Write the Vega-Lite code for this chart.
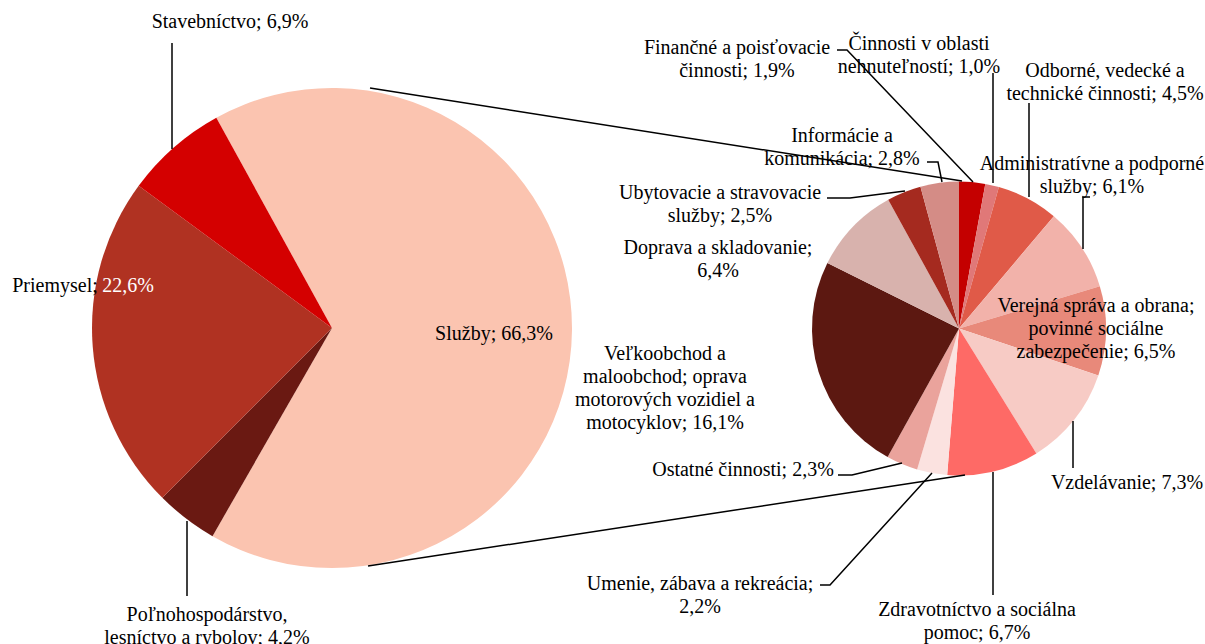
{
  "$schema": "https://vega.github.io/schema/vega-lite/v6.json",
  "width": 1205,
  "height": 644,
  "padding": 0,
  "autosize": "none",
  "background": "white",
  "config": {"view": {"stroke": null}},
  "datasets": {
    "odvetvia": [
      {"odvetvie": "Služby", "podiel": 66.3},
      {"odvetvie": "Poľnohospodárstvo, lesníctvo a rybolov", "podiel": 4.2},
      {"odvetvie": "Priemysel", "podiel": 22.6},
      {"odvetvie": "Stavebníctvo", "podiel": 6.9}
    ],
    "sluzby": [
      {"odvetvie": "Finančné a poisťovacie činnosti", "podiel": 1.9},
      {"odvetvie": "Činnosti v oblasti nehnuteľností", "podiel": 1.0},
      {"odvetvie": "Odborné, vedecké a technické činnosti", "podiel": 4.5},
      {"odvetvie": "Administratívne a podporné služby", "podiel": 6.1},
      {"odvetvie": "Verejná správa a obrana; povinné sociálne zabezpečenie", "podiel": 6.5},
      {"odvetvie": "Vzdelávanie", "podiel": 7.3},
      {"odvetvie": "Zdravotníctvo a sociálna pomoc", "podiel": 6.7},
      {"odvetvie": "Umenie, zábava a rekreácia", "podiel": 2.2},
      {"odvetvie": "Ostatné činnosti", "podiel": 2.3},
      {"odvetvie": "Veľkoobchod a maloobchod; oprava motorových vozidiel a motocyklov", "podiel": 16.1},
      {"odvetvie": "Doprava a skladovanie", "podiel": 6.4},
      {"odvetvie": "Ubytovacie a stravovacie služby", "podiel": 2.5},
      {"odvetvie": "Informácie a komunikácia", "podiel": 2.8}
    ],
    "popisy": [
      {"popis": ["Stavebníctvo; 6,9%"], "px": 230, "py": 28},
      {"popis": ["Priemysel;"], "px": 55, "py": 292},
      {"popis": ["Služby; 66,3%"], "px": 494, "py": 340},
      {"popis": ["Poľnohospodárstvo,", "lesníctvo a rybolov; 4,2%"], "px": 207, "py": 621},
      {"popis": ["Finančné a poisťovacie", "činnosti; 1,9%"], "px": 737, "py": 54},
      {"popis": ["Činnosti v oblasti", "nehnuteľností; 1,0%"], "px": 919, "py": 50},
      {"popis": ["Odborné, vedecké a", "technické činnosti; 4,5%"], "px": 1105, "py": 77},
      {"popis": ["Administratívne a podporné", "služby; 6,1%"], "px": 1092, "py": 170},
      {"popis": ["Verejná správa a obrana;", "povinné sociálne", "zabezpečenie; 6,5%"], "px": 1096, "py": 312},
      {"popis": ["Vzdelávanie; 7,3%"], "px": 1127, "py": 489},
      {"popis": ["Zdravotníctvo a sociálna", "pomoc; 6,7%"], "px": 977, "py": 616},
      {"popis": ["Umenie, zábava a rekreácia;", "2,2%"], "px": 700, "py": 590},
      {"popis": ["Ostatné činnosti; 2,3%"], "px": 743, "py": 476},
      {"popis": ["Veľkoobchod a", "maloobchod; oprava", "motorových vozidiel a", "motocyklov; 16,1%"], "px": 665, "py": 360},
      {"popis": ["Doprava a skladovanie;", "6,4%"], "px": 718, "py": 254},
      {"popis": ["Ubytovacie a stravovacie", "služby; 2,5%"], "px": 720, "py": 199},
      {"popis": ["Informácie a", "komunikácia; 2,8%"], "px": 842, "py": 142}
    ],
    "vodiace": [
      {"id": "stav", "k": 1, "px": 172, "py": 43}, {"id": "stav", "k": 2, "px": 172, "py": 149},
      {"id": "poln", "k": 1, "px": 187, "py": 521}, {"id": "poln", "k": 2, "px": 187, "py": 596},
      {"id": "fin", "k": 1, "px": 837, "py": 50}, {"id": "fin", "k": 2, "px": 847, "py": 50}, {"id": "fin", "k": 3, "px": 973, "py": 182},
      {"id": "neh", "k": 1, "px": 993, "py": 73}, {"id": "neh", "k": 2, "px": 993, "py": 183},
      {"id": "odb", "k": 1, "px": 1029, "py": 103}, {"id": "odb", "k": 2, "px": 1029, "py": 197},
      {"id": "adm", "k": 1, "px": 1090, "py": 197}, {"id": "adm", "k": 2, "px": 1083, "py": 197}, {"id": "adm", "k": 3, "px": 1083, "py": 249},
      {"id": "vzd", "k": 1, "px": 1073, "py": 421}, {"id": "vzd", "k": 2, "px": 1073, "py": 468},
      {"id": "zdr", "k": 1, "px": 993, "py": 472}, {"id": "zdr", "k": 2, "px": 993, "py": 595},
      {"id": "ume", "k": 1, "px": 820, "py": 585}, {"id": "ume", "k": 2, "px": 830, "py": 585}, {"id": "ume", "k": 3, "px": 932, "py": 473},
      {"id": "ost", "k": 1, "px": 838, "py": 475}, {"id": "ost", "k": 2, "px": 852, "py": 475}, {"id": "ost", "k": 3, "px": 902, "py": 463},
      {"id": "uby", "k": 1, "px": 827, "py": 198}, {"id": "uby", "k": 2, "px": 850, "py": 198}, {"id": "uby", "k": 3, "px": 905, "py": 191},
      {"id": "inf", "k": 1, "px": 927, "py": 162}, {"id": "inf", "k": 2, "px": 938, "py": 162}, {"id": "inf", "k": 3, "px": 942, "py": 182}
    ],
    "spojnice": [
      {"px": 370, "py": 88, "px2": 962, "py2": 181},
      {"px": 368, "py": 566, "px2": 965, "py2": 475}
    ]
  },
  "layer": [
    {
      "data": {"name": "odvetvia"},
      "transform": [{"window": [{"op": "row_number", "as": "n"}]}],
      "mark": {"type": "arc", "outerRadius": 240, "strokeWidth": 0},
      "encoding": {
        "x": {"datum": 332, "type": "quantitative", "scale": {"domain": [0, 1205], "nice": false, "zero": false}, "axis": null},
        "y": {"datum": 328, "type": "quantitative", "scale": {"domain": [0, 644], "nice": false, "zero": false, "reverse": true}, "axis": null},
        "theta": {"field": "podiel", "type": "quantitative", "stack": true, "scale": {"range": [-0.503, 5.7802]}},
        "order": {"field": "n", "type": "quantitative"},
        "color": {
          "field": "odvetvie", "type": "nominal", "legend": null,
          "scale": {
            "domain": ["Služby", "Poľnohospodárstvo, lesníctvo a rybolov", "Priemysel", "Stavebníctvo"],
            "range": ["#FBC4B0", "#6A1912", "#B03222", "#D40000"]
          }
        }
      }
    },
    {
      "data": {"name": "sluzby"},
      "transform": [{"window": [{"op": "row_number", "as": "n"}]}],
      "mark": {"type": "arc", "outerRadius": 147, "strokeWidth": 0},
      "encoding": {
        "x": {"datum": 959, "type": "quantitative"},
        "y": {"datum": 328.5, "type": "quantitative"},
        "theta": {"field": "podiel", "type": "quantitative", "stack": true, "scale": {"range": [0, 6.2832]}},
        "order": {"field": "n", "type": "quantitative"},
        "color": {
          "field": "odvetvie", "type": "nominal", "legend": null,
          "scale": {
            "domain": [
              "Finančné a poisťovacie činnosti",
              "Činnosti v oblasti nehnuteľností",
              "Odborné, vedecké a technické činnosti",
              "Administratívne a podporné služby",
              "Verejná správa a obrana; povinné sociálne zabezpečenie",
              "Vzdelávanie",
              "Zdravotníctvo a sociálna pomoc",
              "Umenie, zábava a rekreácia",
              "Ostatné činnosti",
              "Veľkoobchod a maloobchod; oprava motorových vozidiel a motocyklov",
              "Doprava a skladovanie",
              "Ubytovacie a stravovacie služby",
              "Informácie a komunikácia"
            ],
            "range": ["#C40000", "#E07878", "#E05A48", "#F2B2AA", "#E8897A", "#F7CBC5", "#FE6A66", "#FBE2E0", "#EAA39C", "#5C1811", "#D8B2AD", "#A52A1F", "#D48C86"]
          }
        }
      }
    },
    {
      "data": {"name": "spojnice"},
      "mark": {"type": "rule", "color": "black", "strokeWidth": 1.5},
      "encoding": {
        "x": {"field": "px", "type": "quantitative"},
        "y": {"field": "py", "type": "quantitative"},
        "x2": {"field": "px2"},
        "y2": {"field": "py2"}
      }
    },
    {
      "data": {"name": "vodiace"},
      "mark": {"type": "line", "color": "black", "strokeWidth": 1.5},
      "encoding": {
        "x": {"field": "px", "type": "quantitative"},
        "y": {"field": "py", "type": "quantitative"},
        "detail": {"field": "id", "type": "nominal"},
        "order": {"field": "k", "type": "quantitative"}
      }
    },
    {
      "data": {"name": "popisy"},
      "mark": {"type": "text", "font": "Liberation Serif", "fontSize": 20, "lineHeight": 23, "align": "center", "baseline": "alphabetic", "color": "black"},
      "encoding": {
        "x": {"field": "px", "type": "quantitative"},
        "y": {"field": "py", "type": "quantitative"},
        "text": {"field": "popis"}
      }
    },
    {
      "data": {"values": [{"popis": "22,6%", "px": 128, "py": 292}]},
      "mark": {"type": "text", "font": "Liberation Serif", "fontSize": 20, "align": "center", "baseline": "alphabetic", "color": "white"},
      "encoding": {
        "x": {"field": "px", "type": "quantitative"},
        "y": {"field": "py", "type": "quantitative"},
        "text": {"field": "popis"}
      }
    }
  ],
  "resolve": {"scale": {"theta": "independent", "color": "independent"}}
}
